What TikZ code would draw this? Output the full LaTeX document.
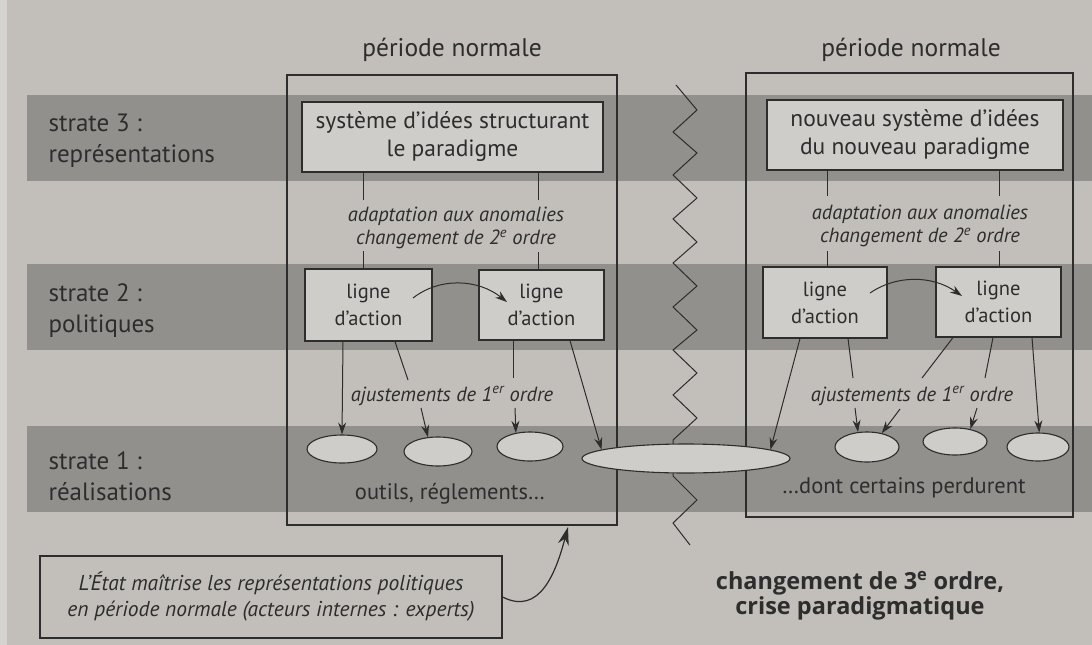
\documentclass[tikz,border=0pt]{standalone}
\usepackage{fontspec}
\setmainfont{PT Sans}
\newfontfamily\wideb{Open Sans}
\usetikzlibrary{arrows.meta,shapes.geometric,calc}
\definecolor{paper}{RGB}{194,191,186}
\definecolor{margin}{RGB}{214,212,208}
\definecolor{band}{RGB}{146,144,141}
\definecolor{boxfill}{RGB}{207,205,201}
\definecolor{ink}{RGB}{45,45,45}
\begin{document}
\begin{tikzpicture}[x=1pt,y=-1pt,
  every node/.style={text=ink},
  framebox/.style={draw=ink, line width=1.1pt, inner sep=0pt},
  ideabox/.style={draw=ink, line width=1.1pt, fill=boxfill, align=center, inner sep=0pt,
    font=\fontsize{20.5}{27}\selectfont},
  sysbox/.style={ideabox, font=\fontsize{23.5}{28}\selectfont},
  ell/.style={ellipse, draw=ink, line width=1.1pt, fill=boxfill, inner sep=0pt},
  lin/.style={draw=ink, line width=1pt},
  arr/.style={draw=ink, line width=1pt, -{Stealth[length=12pt,width=8pt]}},
  bigarr/.style={draw=ink, line width=1.2pt, -{Stealth[length=18pt,width=11pt]}},
  ital/.style={font=\fontsize{20.5}{23}\selectfont\itshape, align=center},
  lab/.style={font=\fontsize{25}{31}\selectfont, align=left, anchor=west},
  ttl/.style={font=\fontsize{25.5}{30}\selectfont},
  plain/.style={font=\fontsize{22.5}{25}\selectfont}
]
\useasboundingbox (0,0) rectangle (1092,645);
% paper and strata bands
\fill[paper] (0,0) rectangle (1092,645);
\fill[margin] (0,0) rectangle (7,645);
\fill[band] (27,95) rectangle (1092,181);
\fill[band] (27,264) rectangle (1092,350);
\fill[band] (27,426) rectangle (1092,512);

% strata labels
\node[lab] (s3) at (45,141) {strate 3 :\\représentations};
\node[lab] (s2) at (45,311) {strate 2 :\\politiques};
\node[lab] (s1) at (45,476) {strate 1 :\\réalisations};

% titles
\node[ttl] (t1) at (452,50) {période normale};
\node[ttl] (t2) at (911,50) {période normale};

% period frames
\node[framebox, minimum width=330pt, minimum height=450pt] (frameL) at (452,300) {};
\node[framebox, minimum width=327pt, minimum height=444pt] (frameR) at (909.5,295) {};

% zigzag break
\draw[lin, line join=miter] (676,85) -- (697,110) -- (673,132) -- (697,153) -- (673,175)
  -- (697,198) -- (673,219) -- (697,242) -- (673,263) -- (697,286) -- (673,307)
  -- (697,330) -- (673,350) -- (697,373) -- (673,395) -- (697,418) -- (673,440)
  -- (673,476) -- (697,500) -- (673,523) -- (690,545);

% strate 3 boxes
\node[sysbox, minimum width=301pt, minimum height=70pt] (sysL) at (452.5,137)
  {système d'idées structurant\\le paradigme};
\node[sysbox, minimum width=296pt, minimum height=70pt] (sysR) at (915,135)
  {nouveau système d'idées\\du nouveau paradigme};

% strate 2 boxes
\node[ideabox, minimum width=127pt, minimum height=72pt] (ligneL1) at (368.5,305) {ligne\\d'action};
\node[ideabox, minimum width=125pt, minimum height=70pt] (ligneL2) at (541.5,305) {ligne\\d'action};
\node[ideabox, minimum width=124pt, minimum height=71pt] (ligneR1) at (825,302.5) {ligne\\d'action};
\node[ideabox, minimum width=125pt, minimum height=70pt] (ligneR2) at (998.5,302) {ligne\\d'action};

% italic labels
\node[ital] (adL) at (456,228) {adaptation aux anomalies\\changement de 2\textsuperscript{e} ordre};
\node[ital] (adR) at (920,226) {adaptation aux anomalies\\changement de 2\textsuperscript{e} ordre};
\node[ital] (ajL) at (452,396) {ajustements de 1\textsuperscript{er} ordre};
\node[ital] (ajR) at (912,396) {ajustements de 1\textsuperscript{er} ordre};

% strate 1 ellipses
\node[ell, minimum width=70pt, minimum height=28pt] (e1) at (342,449) {};
\node[ell, minimum width=68pt, minimum height=29pt] (e2) at (438,451.5) {};
\node[ell, minimum width=66pt, minimum height=29pt] (e3) at (530,446.5) {};
\node[ell, minimum width=208pt, minimum height=29pt] (big) at (686,458.5) {};
\node[ell, minimum width=64pt, minimum height=30pt] (ea) at (867,447) {};
\node[ell, minimum width=64pt, minimum height=27pt] (eb) at (955,441.5) {};
\node[ell, minimum width=62pt, minimum height=28pt] (ec) at (1038,447) {};

\node[plain] (outL) at (450,494) {outils, réglements…};
\node[plain] (outR) at (904,488) {…dont certains perdurent};

% strate 3 -> strate 2 connectors
\draw[lin] ($(sysL.south)+(-89.5,0)$) -- ++(0,27);
\draw[lin] ($(sysL.south)+(85.5,0)$) -- ++(0,27);
\draw[lin] ($(ligneL1.north)+(-5.5,0)$) -- ++(0,-17);
\draw[lin] ($(ligneL2.north)+(-3.5,0)$) -- ++(0,-17);
\draw[lin] ($(sysR.south)+(-88,0)$) -- ++(0,25);
\draw[lin] ($(sysR.south)+(84,0)$) -- ++(0,25);
\draw[lin] ($(ligneR1.north)+(2,0)$) -- ++(0,-15);
\draw[lin] ($(ligneR2.north)+(0.5,0)$) -- ++(0,-15);

% curved arrows between lignes d'action
\coordinate (cLs) at (413,298);
\coordinate (cLe) at (507,302);
\draw[arr] (cLs) .. controls (440,277) and (478,279) .. (cLe);
\coordinate (cRs) at (870,293);
\coordinate (cRe) at (962,296);
\draw[arr] (cRs) .. controls (896,275) and (932,275) .. (cRe);

% left period: strate 2 -> strate 1
\draw[arr] ($(ligneL1.south)+(-25.5,0)$) -- (e1.north);
\coordinate (pL1) at (408,380);
\coordinate (qL1) at (421,408);
\draw[lin] ($(ligneL1.south)+(26.5,0)$) -- (pL1);
\draw[arr] (qL1) -- (e2.125);
\coordinate (pL2) at (513,378);
\coordinate (qL2) at (515,408);
\draw[lin] ($(ligneL2.south)+(-28.5,0)$) -- (pL2);
\draw[arr] (qL2) -- (e3.136);
\draw[arr] ($(ligneL2.south)+(28.5,0)$) -- (big.174);

% right period: strate 2 -> strate 1
\draw[arr] ($(ligneR1.south)+(-25,0)$) -- (big.6);
\coordinate (pR1) at (853,378);
\coordinate (qR1) at (855,408);
\draw[lin] ($(ligneR1.south)+(23,0)$) -- (pR1);
\draw[arr] (qR1) -- (ea.121);
\coordinate (pR2) at (922,378);
\coordinate (qR2) at (900,409);
\draw[lin] ($(ligneR2.south)+(-45.5,0)$) -- (pR2);
\draw[arr] (qR2) -- (ea.43);
\coordinate (pR3) at (985,378);
\coordinate (qR3) at (977,408);
\draw[lin] ($(ligneR2.south)+(-5.5,0)$) -- (pR3);
\draw[arr] (qR3) -- (eb.39);
\draw[arr] ($(ligneR2.south)+(33.5,0)$) -- (ec.85);

% note box with arrow to the left frame
\node[framebox, fill=paper, minimum width=462pt, minimum height=82pt, align=center,
  font=\fontsize{21.5}{26}\selectfont\itshape] (note) at (271,597)
  {L'État maîtrise les représentations politiques\\en période normale (acteurs internes : experts)};
\coordinate (tipN) at (568,527);
\draw[bigarr] (note.east) .. controls (540,616) and (556,572) .. (tipN);

% third order change
\node[font=\wideb\fontsize{23.5}{25}\bfseries\selectfont, align=center] (ch3) at (860,596)
  {changement de 3\textsuperscript{e} ordre,\\crise paradigmatique};
\end{tikzpicture}
\end{document}
